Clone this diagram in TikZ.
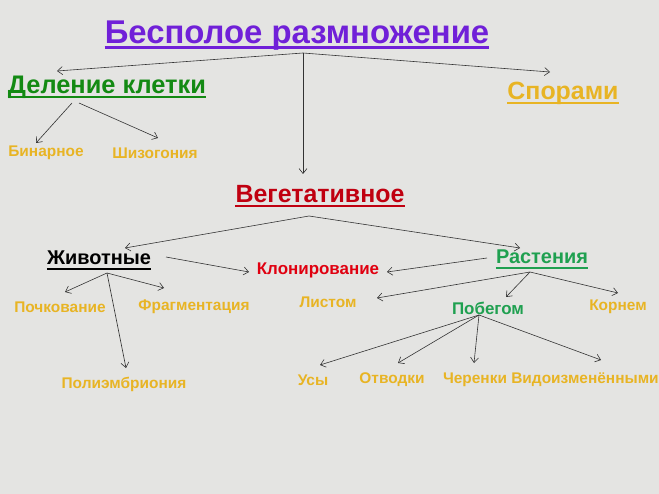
\documentclass[tikz,border=0pt]{standalone}
\usepackage{fontspec}
\setmainfont{Liberation Sans}
\usetikzlibrary{arrows.meta}
\definecolor{bg}{HTML}{E4E4E2}
\definecolor{cTitle}{HTML}{7020D8}
\definecolor{cGreen}{HTML}{138A13}
\definecolor{cOrange}{HTML}{E8B424}
\definecolor{cDark}{HTML}{C00010}
\definecolor{cRed}{HTML}{E00010}
\definecolor{cPlant}{HTML}{1FA050}
\tikzset{
  lbl/.style={inner sep=0pt, anchor=center, font=\bfseries},
  orng/.style={lbl, text=cOrange, font=\bfseries\fontsize{15.5}{17}\selectfont},
  arr/.style={-{Straight Barb[length=5pt,width=8pt]}, draw=black!80, line width=0.6pt},
}
\begin{document}
\begin{tikzpicture}[x=1bp,y=-1bp]
\fill[bg] (0,0) rectangle (659,494);
\useasboundingbox (0,0) rectangle (659,494);
% nodes
\node[lbl,text=cTitle,font=\bfseries\fontsize{33}{36}\selectfont] (t) at (297,36) {Бесполое размножение};
\node[lbl,text=cGreen,font=\bfseries\fontsize{25.5}{28}\selectfont] (d) at (107,87) {Деление клетки};
\node[lbl,text=cOrange,font=\bfseries\fontsize{25}{28}\selectfont] (s) at (563,93) {Спорами};
\node[orng] (b) at (46,153) {Бинарное};
\node[orng] (sh) at (155,153) {Шизогония};
\node[lbl,text=cDark,font=\bfseries\fontsize{25}{28}\selectfont] (v) at (320,194) {Вегетативное};
\node[lbl,text=black,font=\bfseries\fontsize{20}{22}\selectfont] (zh) at (99,258) {Животные};
\node[lbl,text=cRed,font=\bfseries\fontsize{17}{19}\selectfont] (kl) at (318,270) {Клонирование};
\node[lbl,text=cPlant,font=\bfseries\fontsize{20}{22}\selectfont] (r) at (542,257) {Растения};
\node[orng] (po) at (60,307) {Почкование};
\node[orng] (fr) at (194,307) {Фрагментация};
\node[orng] (pe) at (124,384) {Полиэмбриония};
\node[orng] (li) at (328,302) {Листом};
\node[lbl,text=cPlant,font=\bfseries\fontsize{17}{19}\selectfont] (pb) at (488,308) {Побегом};
\node[orng] (ko) at (618,307) {Корнем};
\node[orng] (us) at (313,380) {Усы};
\node[orng] (ot) at (392,380) {Отводки};
\node[orng] (ch) at (475,380) {Черенки};
\node[orng] (vi) at (585,380) {Видоизменёнными};
% underlines
\draw[cTitle,line width=3pt] ([yshift=-4bp]t.base west) -- ([yshift=-4bp]t.base east);
\draw[cGreen,line width=2pt] ([yshift=-4bp]d.base west) -- ([yshift=-4bp]d.base east);
\draw[cOrange,line width=2pt] ([yshift=-4bp]s.base west) -- ([yshift=-4bp]s.base east);
\draw[cDark,line width=2pt] ([yshift=-4bp]v.base west) -- ([yshift=-4bp]v.base east);
\draw[black,line width=1.5pt] ([yshift=-4bp]zh.base west) -- ([yshift=-4bp]zh.base east);
\draw[cPlant,line width=1.5pt] ([yshift=-4bp]r.base west) -- ([yshift=-4bp]r.base east);
% connector coordinates
\coordinate (t0) at (303,53);
\coordinate (d1) at (57,71); \coordinate (s1) at (550,72); \coordinate (v1) at (303,174);
\coordinate (dA) at (72,103); \coordinate (dB) at (79,103);
\coordinate (b1) at (36,143); \coordinate (sh1) at (158,138);
\coordinate (v0) at (309,216); \coordinate (zh1) at (125,248); \coordinate (r1) at (520,248);
\coordinate (zhR) at (166,257); \coordinate (kl1) at (249,272);
\coordinate (zh0) at (107,273);
\coordinate (po1) at (65,292); \coordinate (fr1) at (164,288); \coordinate (pe1) at (126,368);
\coordinate (rL) at (487,258); \coordinate (kl2) at (387,272);
\coordinate (r0) at (530,272);
\coordinate (li1) at (377,298); \coordinate (pb1) at (506,297); \coordinate (ko1) at (618,293);
\coordinate (pb0) at (479,315);
\coordinate (us1) at (320,365); \coordinate (ot1) at (398,363); \coordinate (ch1) at (474,363); \coordinate (vi1) at (601,360);
% connectors
\draw[arr] (t0) -- (d1); \draw[arr] (t0) -- (s1); \draw[arr] (t0) -- (v1);
\draw[arr] (dA) -- (b1); \draw[arr] (dB) -- (sh1);
\draw[arr] (v0) -- (zh1); \draw[arr] (v0) -- (r1);
\draw[arr] (zhR) -- (kl1);
\draw[arr] (zh0) -- (po1); \draw[arr] (zh0) -- (fr1); \draw[arr] (zh0) -- (pe1);
\draw[arr] (rL) -- (kl2);
\draw[arr] (r0) -- (li1); \draw[arr] (r0) -- (pb1); \draw[arr] (r0) -- (ko1);
\draw[arr] (pb0) -- (us1); \draw[arr] (pb0) -- (ot1); \draw[arr] (pb0) -- (ch1); \draw[arr] (pb0) -- (vi1);
\end{tikzpicture}
\end{document}
